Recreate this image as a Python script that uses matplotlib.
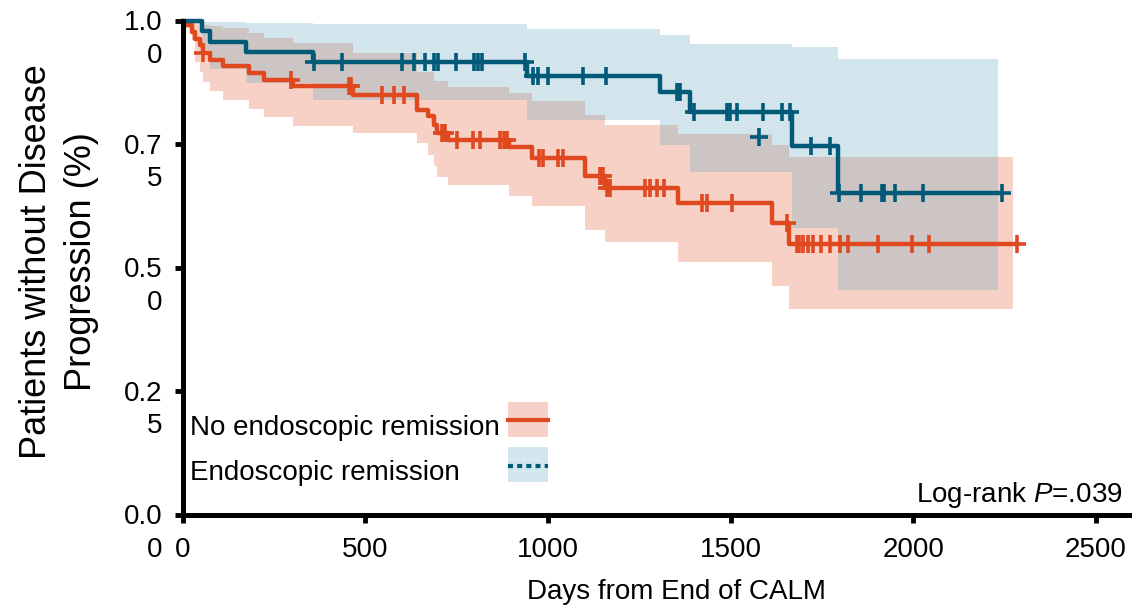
import numpy as np
import matplotlib
matplotlib.use("Agg")
import matplotlib.pyplot as plt
from matplotlib.patches import Patch, Rectangle
from matplotlib.lines import Line2D
from matplotlib.legend_handler import HandlerBase
from matplotlib.transforms import ScaledTranslation

plt.rcParams['font.family'] = ['Liberation Sans', 'DejaVu Sans']
plt.rcParams['mathtext.fontset'] = 'custom'
plt.rcParams['mathtext.rm'] = 'Liberation Sans'
plt.rcParams['mathtext.it'] = 'Liberation Sans:italic'

# --- Kaplan-Meier estimate: no endoscopic remission ---
no_rem_time = [0, 4, 25, 34, 47, 56, 75, 111, 182, 223, 303, 465, 642, 672, 689,
               695, 727, 893, 957, 1102, 1156, 1356, 1613, 1661, 2284]
no_rem_surv = [1.0, 0.991, 0.977, 0.962, 0.950, 0.934, 0.921, 0.908, 0.894, 0.880,
               0.867, 0.849, 0.819, 0.807, 0.788, 0.773, 0.759, 0.743, 0.722, 0.686,
               0.660, 0.630, 0.591, 0.548, 0.548]
no_rem_censor = [56, 296, 455, 461, 546, 579, 607, 709, 718, 752, 795, 814, 869, 880,
                 887, 976, 985, 1028, 1042, 1142, 1151, 1161, 1170, 1266, 1279, 1298,
                 1318, 1421, 1436, 1503, 1655, 1681, 1688, 1697, 1711, 1726, 1747,
                 1772, 1800, 1820, 1902, 1996, 2044, 2284]
no_rem_ci_time = [4, 25, 34, 47, 56, 75, 111, 182, 223, 303, 465, 642, 672, 689, 695,
                  727, 893, 957, 1102, 1156, 1356, 1613, 1661, 2273]
no_rem_ci_upper = [0.999, 0.997, 0.995, 0.993, 0.991, 0.988, 0.984, 0.974, 0.964,
                   0.954, 0.935, 0.896, 0.896, 0.878, 0.878, 0.866, 0.853, 0.837,
                   0.809, 0.789, 0.770, 0.748, 0.723, 0.723]
no_rem_ci_lower = [0.985, 0.960, 0.917, 0.896, 0.876, 0.858, 0.840, 0.821, 0.804,
                   0.786, 0.772, 0.753, 0.727, 0.705, 0.684, 0.666, 0.645, 0.624,
                   0.576, 0.551, 0.512, 0.463, 0.417, 0.417]

# --- Kaplan-Meier estimate: endoscopic remission ---
rem_time = [0, 54, 75, 173, 357, 943, 1306, 1389, 1668, 1793, 2242]
rem_surv = [1.0, 0.979, 0.956, 0.937, 0.915, 0.888, 0.856, 0.815, 0.746, 0.651, 0.651]
rem_censor = [359, 435, 600, 632, 664, 689, 698, 747, 797, 808, 819, 938, 960, 973,
              999, 1097, 1158, 1352, 1361, 1400, 1489, 1498, 1517, 1589, 1640, 1663,
              1720, 1772, 1797, 1857, 1913, 1920, 1950, 2027, 2242]
rem_extra_censor_time = [1578]
rem_extra_censor_surv = [0.764]
rem_ci_time = [54, 75, 173, 357, 943, 1306, 1389, 1668, 1793, 2231]
rem_ci_upper = [0.997, 0.996, 0.995, 0.992, 0.982, 0.971, 0.952, 0.946, 0.923, 0.923]
rem_ci_lower = [0.940, 0.901, 0.873, 0.840, 0.799, 0.748, 0.694, 0.579, 0.455, 0.455]

group_labels = ["No endoscopic remission", "Endoscopic remission"]
x_ticks = [0, 500, 1000, 1500, 2000, 2500]
y_ticks = [0.0, 0.25, 0.5, 0.75, 1.0]
y_tick_labels = ["0.0\n0", "0.2\n5", "0.5\n0", "0.7\n5", "1.0\n0"]

ORANGE = "#e0481f"
BLUE = "#005a78"
BLUE_BAND = "#6cabc2"


def step_value(times, surv, t):
    idx = np.searchsorted(times, t, side="right") - 1
    return np.asarray(surv)[idx]


class BandLineHandler(HandlerBase):
    """Legend key: a shaded band swatch with the curve's line through its middle."""

    def __init__(self, lift=2.5, box_height=25.2, **kw):
        super().__init__(**kw)
        self.lift = lift
        self.box_height = box_height

    def create_artists(self, legend, orig_handle, xdescent, ydescent, width,
                       height, fontsize, trans):
        band, line = orig_handle
        y0 = -ydescent + self.lift
        rect = Rectangle((-xdescent, y0), width, self.box_height,
                         facecolor=band.get_facecolor(), edgecolor="none",
                         transform=trans)
        yc = y0 + self.box_height / 2 - 1.0
        ln = Line2D([-xdescent, -xdescent + width], [yc, yc],
                    color=line.get_color(), lw=line.get_linewidth(),
                    ls=line.get_linestyle(), transform=trans)
        if isinstance(line.get_linestyle(), str) and line.get_linestyle() != "-":
            ln.set_dashes(line._unscaled_dash_pattern[1])
        return [rect, ln]


fig = plt.figure(figsize=(11.32, 6.06), dpi=100)
ax = fig.add_axes([182.7 / 1132, 91.5 / 606, 949.8 / 1132, 494 / 606])

# confidence bands
ax.fill_between(no_rem_ci_time, no_rem_ci_lower, no_rem_ci_upper, step="post",
                color=ORANGE, alpha=0.25, lw=0)
ax.fill_between(rem_ci_time, rem_ci_lower, rem_ci_upper, step="post",
                color=BLUE_BAND, alpha=0.3, lw=0)

# survival curves
ax.step(no_rem_time, no_rem_surv, where="post", color=ORANGE, lw=3.2, clip_on=False)
ax.step(rem_time, rem_surv, where="post", color=BLUE, lw=3.2, clip_on=False)

# censoring marks
mk = dict(ls="none", marker="+", ms=12.5, mew=2.6)
ax.plot(no_rem_censor, step_value(no_rem_time, no_rem_surv, no_rem_censor),
        color=ORANGE, **mk)
ax.plot(rem_censor, step_value(rem_time, rem_surv, rem_censor), color=BLUE, **mk)
ax.plot(rem_extra_censor_time, rem_extra_censor_surv, color=BLUE, **mk)

ax.set_xlim(0, 2600)
ax.set_ylim(0, 1.0)
for side in ("top", "right"):
    ax.spines[side].set_visible(False)
for side in ("left", "bottom"):
    ax.spines[side].set_linewidth(3.6)
    ax.spines[side].set_capstyle("projecting")

ax.set_xticks(x_ticks)
ax.set_xticklabels([str(v) for v in x_ticks])
ax.set_yticks(y_ticks)
ax.tick_params(axis="both", direction="out", length=5.5, width=3.5, labelsize=20,
               color="black")
ax.tick_params(axis="x", pad=11)
ax.tick_params(axis="y", labelleft=False)

# wrapped y tick labels, first line centred on the tick
ylab_trans = ax.get_yaxis_transform() + ScaledTranslation(0, 7.5 / 72, fig.dpi_scale_trans)
for v, lab in zip(y_ticks, y_tick_labels):
    ax.text(-0.021, v, lab, transform=ylab_trans, ha="right", va="top",
            fontsize=20, linespacing=1.33, multialignment="right")

fig.text(59 / 1132, 1 - 262 / 606, "Patients without Disease\nProgression (%)",
         rotation=90, ha="center", va="center", multialignment="center",
         fontsize=26, linespacing=1.4)
fig.text(676 / 1132, 1 - 592 / 606, "Days from End of CALM", ha="center",
         va="center", fontsize=20)

ax.text(0.990, 0.026, r"Log-rank $P$=.039", transform=ax.transAxes, ha="right",
        va="baseline", fontsize=20)

handles = [
    (Patch(facecolor=(0.969, 0.820, 0.780), edgecolor="none"),
     Line2D([], [], color=ORANGE, lw=3)),
    (Patch(facecolor=(0.824, 0.902, 0.929), edgecolor="none"),
     Line2D([], [], color=BLUE, lw=3, ls=(0, (1.2, 1.0)))),
]
LEG_FS = 20
LEG_PAD = 0.3
leg = ax.legend(handles, group_labels,
                handler_map={tuple: BandLineHandler()},
                loc="upper left", bbox_to_anchor=(190 / 1132, 1 - 410.5 / 606),
                bbox_transform=fig.transFigure, frameon=False, markerfirst=False,
                fontsize=LEG_FS, handlelength=1.45, handleheight=1.26,
                handletextpad=LEG_PAD, labelspacing=0.55, borderpad=0,
                borderaxespad=0)

# left-align the labels while keeping the swatches in one column
fig.canvas.draw()
column = leg._legend_handle_box.get_children()[0]
column.align = "left"
widths = [t.get_window_extent().width for t in leg.texts]
for row, w in zip(column.get_children(), widths):
    row.sep = LEG_PAD * LEG_FS + (max(widths) - w) * 72 / fig.dpi

fig.savefig("out.png", dpi=100)
